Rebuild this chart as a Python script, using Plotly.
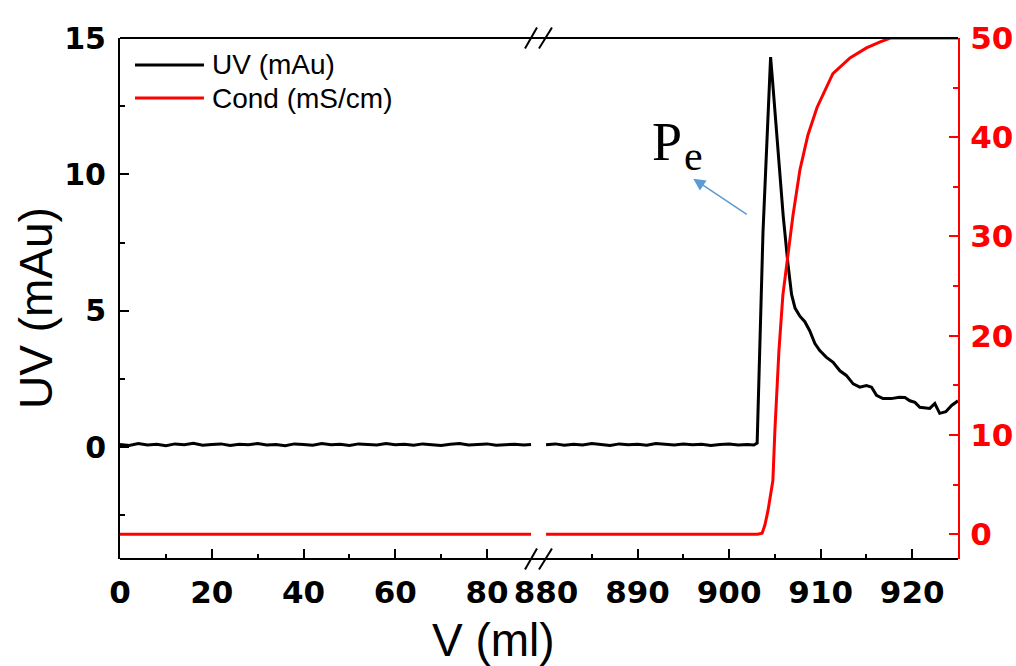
import plotly.graph_objects as go

# ---------------- data ----------------
# left segment of the broken axis (0 - 90 ml)
uv_left_v = [0, 2, 4, 6, 8, 10, 12, 14, 16, 18, 20, 22, 24, 26, 28, 30, 32, 34, 36, 38,
             40, 42, 44, 46, 48, 50, 52, 54, 56, 58, 60, 62, 64, 66, 68, 70, 72, 74, 76, 78,
             80, 82, 84, 86, 88, 89.6]
uv_left = [0.10, 0.06, 0.13, 0.08, 0.11, 0.05, 0.12, 0.09, 0.14, 0.07, 0.10, 0.12, 0.06, 0.11,
           0.09, 0.13, 0.08, 0.10, 0.05, 0.12, 0.10, 0.07, 0.13, 0.09, 0.11, 0.06, 0.12, 0.10,
           0.08, 0.13, 0.09, 0.11, 0.07, 0.12, 0.10, 0.06, 0.11, 0.13, 0.08, 0.10, 0.12, 0.07,
           0.09, 0.11, 0.08, 0.10]
cond_left_v = [0, 89.6]
cond_left = [0, 0]

# right segment of the broken axis (880 - 925 ml)
uv_right_v = [880, 881, 882, 883, 884, 885, 886, 887, 888, 889, 890, 891, 892, 893, 894, 895,
              896, 897, 898, 899, 900, 901, 902, 902.7, 903.06, 903.7, 904.3, 904.53, 904.75,
              905.19, 905.9, 906.43, 906.82, 907.2, 907.73, 908.27, 908.8, 909.37, 909.9,
              910.6, 911.36, 912.1, 912.8, 913.55, 914.28, 915.0, 915.56, 916.1, 916.8,
              917.7, 918.6, 919.2, 919.74, 920.3, 920.83, 921.92, 922.47, 923.0, 923.67,
              924.3, 925.0]
uv_right = [0.09, 0.12, 0.07, 0.11, 0.08, 0.13, 0.10, 0.06, 0.12, 0.09, 0.11, 0.07, 0.13, 0.10,
            0.08, 0.12, 0.09, 0.11, 0.06, 0.10, 0.12, 0.08, 0.10, 0.08, 0.15, 7.9, 12.7, 14.3,
            13.4, 11.57, 8.5, 6.7, 5.6, 5.1, 4.8, 4.6, 4.27, 3.8, 3.54, 3.3, 3.11, 2.8, 2.63,
            2.32, 2.2, 2.26, 2.2, 1.9, 1.78, 1.78, 1.83, 1.82, 1.7, 1.64, 1.46, 1.42, 1.6,
            1.24, 1.3, 1.53, 1.7]
cond_right_v = [880, 903.1, 903.6, 903.9, 904.25, 904.56, 904.78, 905.0, 905.44, 905.87, 906.3,
                906.97, 907.73, 908.6, 909.6, 911.33, 913.2, 915.0, 916.5, 917.6, 925.0]
cond_right = [0, 0, 0.1, 0.9, 2.4, 4.4, 5.4, 10.5, 18.5, 24.1, 27.3, 32.1, 36.7, 40.2, 43.0,
              46.4, 48.0, 49.0, 49.6, 50.0, 50.0]

x_left_ticks = [0, 20, 40, 60, 80]
x_left_minor = [10, 30, 50, 70]
x_right_ticks = [880, 890, 900, 910, 920]
x_right_minor = [885, 895, 905, 915]
uv_ticks = [0, 5, 10, 15]
uv_minor = [-2.5, 2.5, 7.5, 12.5]
cond_ticks = [0, 10, 20, 30, 40, 50]
cond_minor = [5, 15, 25, 35, 45]

series_names = ["UV (mAu)", "Cond (mS/cm)"]

RED = "#ff0000"
SANS = "Liberation Sans"
TICKFONT = "DejaVu Sans"
SERIF = "Liberation Serif"

fig = go.Figure()
fig.add_trace(go.Scatter(x=uv_left_v, y=uv_left, mode="lines", name=series_names[0],
                         line=dict(color="black", width=3), xaxis="x", yaxis="y"))
fig.add_trace(go.Scatter(x=cond_left_v, y=cond_left, mode="lines", name=series_names[1],
                         line=dict(color=RED, width=3), xaxis="x", yaxis="y2"))
fig.add_trace(go.Scatter(x=uv_right_v, y=uv_right, mode="lines", name=series_names[0],
                         line=dict(color="black", width=3), xaxis="x2", yaxis="y"))
fig.add_trace(go.Scatter(x=cond_right_v, y=cond_right, mode="lines", name=series_names[1],
                         line=dict(color=RED, width=3), xaxis="x2", yaxis="y2"))

xcommon = dict(showline=False, showgrid=False, zeroline=False, ticks="inside", ticklen=10,
               tickwidth=2, tickcolor="black", ticklabelstandoff=12, automargin=False,
               tickfont=dict(family=TICKFONT, size=31, color="black", weight="bold"))

fig.update_layout(
    width=1016, height=666,
    margin=dict(l=120, r=58, t=38, b=107, autoexpand=False),
    paper_bgcolor="white", plot_bgcolor="white",
    showlegend=False,
    xaxis=dict(domain=[0, 0.4916], range=[0, 89.8], anchor="y", tickvals=x_left_ticks,
               minor=dict(tickvals=x_left_minor, ticks="inside", ticklen=5, tickwidth=2,
                          tickcolor="black"),
               **xcommon),
    xaxis2=dict(domain=[0.5084, 1.0], range=[880, 925], anchor="y", tickvals=x_right_ticks,
                minor=dict(tickvals=x_right_minor, ticks="inside", ticklen=5, tickwidth=2,
                           tickcolor="black"),
                **xcommon),
    yaxis=dict(range=[-4.1, 15], anchor="x", side="left", showline=True, linecolor="black",
               linewidth=2, showgrid=False, zeroline=False, ticks="inside", ticklen=9,
               tickwidth=2, tickcolor="black", tickvals=uv_ticks, ticklabelstandoff=6,
               automargin=False,
               minor=dict(tickvals=uv_minor, ticks="inside", ticklen=5, tickwidth=2,
                          tickcolor="black"),
               tickfont=dict(family=TICKFONT, size=30, color="black", weight="bold")),
    yaxis2=dict(range=[-2.5, 50], anchor="x2", side="right", overlaying="y", showline=True,
                linecolor=RED, linewidth=2, showgrid=False, zeroline=False, ticks="inside",
                ticklen=9, tickwidth=2, tickcolor=RED, tickvals=cond_ticks,
                ticklabelstandoff=4, automargin=False,
                minor=dict(tickvals=cond_minor, ticks="inside", ticklen=5, tickwidth=2,
                           tickcolor=RED),
                tickfont=dict(family=TICKFONT, size=31, color=RED, weight="bold")),
)

# frame lines (top and bottom, continuous across the break)
for yy in (0, 1):
    fig.add_shape(type="line", xref="paper", yref="paper", x0=0, x1=1, y0=yy, y1=yy,
                  line=dict(color="black", width=2), layer="above")
# break marks "//"
for yy in (0, 1):
    for (xa, xb) in ((0.4833, 0.4976), (0.5000, 0.5155)):
        fig.add_shape(type="line", xref="paper", yref="paper", x0=xa, x1=xb,
                      y0=yy - 0.020, y1=yy + 0.020,
                      line=dict(color="black", width=2), layer="above")

# legend (drawn as sample lines plus text)
legend_rows = [(0.9482, "black"), (0.8848, RED)]
for (ly, col), name in zip(legend_rows, series_names):
    fig.add_shape(type="line", xref="paper", yref="paper", x0=0.0179, x1=0.1002, y0=ly, y1=ly,
                  line=dict(color=col, width=3))
    fig.add_annotation(text=name, xref="paper", yref="paper", x=0.1074, y=ly,
                       xanchor="left", yanchor="middle", showarrow=False,
                       font=dict(family=SANS, size=28, color="black"))

# axis titles
fig.add_annotation(text="V (ml)", xref="paper", yref="paper", x=0.446, y=-0.1555,
                   xanchor="center", yanchor="middle", showarrow=False,
                   font=dict(family=SANS, size=46, color="black"))
fig.add_annotation(text="UV (mAu)", xref="paper", yref="paper", x=-0.1002, y=0.4818,
                   xanchor="center", yanchor="middle", textangle=-90, showarrow=False,
                   font=dict(family=SANS, size=46, color="black"))

# P_e label and arrow
fig.add_annotation(text="P", xref="x2", yref="y", x=891.35, y=11.17, xanchor="left",
                   yanchor="middle", showarrow=False,
                   font=dict(family=SERIF, size=54, color="black"))
fig.add_annotation(text="e", xref="x2", yref="y", x=894.85, y=10.69, xanchor="left",
                   yanchor="middle", showarrow=False,
                   font=dict(family=SERIF, size=42, color="black"))
fig.add_annotation(text="", xref="x2", yref="y", x=896.08, y=9.84, axref="x2", ayref="y",
                   ax=902.09, ay=8.50, showarrow=True, arrowhead=2, arrowsize=1.6,
                   arrowwidth=1.5, arrowcolor="#5B9BD5")

fig.write_html("out.html")
